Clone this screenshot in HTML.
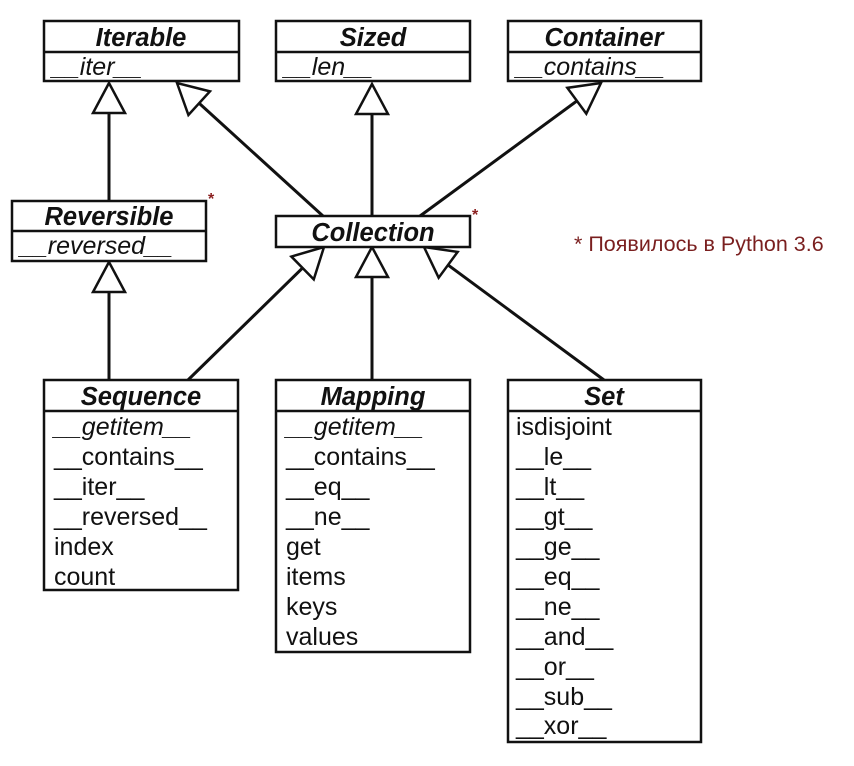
<!DOCTYPE html>
<html><head><meta charset="utf-8"><style>
html,body{margin:0;padding:0;background:#fff;}
svg{display:block;}
text{font-family:"Liberation Sans",Arial,sans-serif;fill:#111;}
.t{font-weight:bold;font-style:italic;font-size:25.5px;text-anchor:middle;}
.m{font-size:25px;}
.i{font-style:italic;}
</style></head><body>
<svg width="854" height="766" viewBox="0 0 854 766" xmlns="http://www.w3.org/2000/svg">
<g stroke="#111" stroke-width="3" fill="none">
<line x1="109" y1="200" x2="109" y2="110"/>
<line x1="323" y1="216" x2="178" y2="84"/>
<line x1="372" y1="216" x2="372" y2="110"/>
<line x1="420" y1="216" x2="600" y2="84"/>
<line x1="109" y1="380" x2="109" y2="290"/>
<line x1="188" y1="380" x2="323" y2="248"/>
<line x1="372" y1="380" x2="372" y2="275"/>
<line x1="604" y1="380" x2="425" y2="248"/>
</g>
<g stroke="#111" stroke-width="2.5" fill="#fff">
<polygon points="0,0 -16,30 16,30" transform="translate(109,83)"/>
<polygon points="0,0 -16,30 16,30" transform="translate(177,83) rotate(-47.7)"/>
<polygon points="0,0 -16,30 16,30" transform="translate(372,84)"/>
<polygon points="0,0 -16,30 16,30" transform="translate(601,83) rotate(53.7)"/>
<polygon points="0,0 -16,30 16,30" transform="translate(109,262)"/>
<polygon points="0,0 -16,30 16,30" transform="translate(324,247) rotate(45.6)"/>
<polygon points="0,0 -16,30 16,30" transform="translate(372,247)"/>
<polygon points="0,0 -16,30 16,30" transform="translate(424,247) rotate(-53.6)"/>
</g>
<g stroke="#111" stroke-width="2.5" fill="#fff">
<rect x="44" y="21" width="195" height="60"/><line x1="44" y1="52" x2="239" y2="52"/>
<rect x="276" y="21" width="194" height="60"/><line x1="276" y1="52" x2="470" y2="52"/>
<rect x="508" y="21" width="193" height="60"/><line x1="508" y1="52" x2="701" y2="52"/>
<rect x="12" y="201" width="194" height="60"/><line x1="12" y1="231" x2="206" y2="231"/>
<rect x="276" y="216" width="194" height="31"/>
<rect x="44" y="380" width="194" height="210"/><line x1="44" y1="411" x2="238" y2="411"/>
<rect x="276" y="380" width="194" height="272"/><line x1="276" y1="411" x2="470" y2="411"/>
<rect x="508" y="380" width="193" height="362"/><line x1="508" y1="411" x2="701" y2="411"/>
</g>
<text class="t" x="141" y="46">Iterable</text>
<text class="m i" x="52" y="75">__iter__</text>
<text class="t" x="373" y="46">Sized</text>
<text class="m i" x="284" y="75">__len__</text>
<text class="t" x="604" y="46">Container</text>
<text class="m i" x="516" y="75">__contains__</text>
<text class="t" x="109" y="225">Reversible</text>
<text class="m i" x="20" y="254">__reversed__</text>
<text class="t" x="373" y="241">Collection</text>
<text class="t" x="141" y="405">Sequence</text>
<text class="t" x="373" y="405">Mapping</text>
<text class="t" x="604" y="405">Set</text>
<text class="m i" x="54" y="435">__getitem__</text>
<text class="m" x="54" y="465">__contains__</text>
<text class="m" x="54" y="495">__iter__</text>
<text class="m" x="54" y="525">__reversed__</text>
<text class="m" x="54" y="555">index</text>
<text class="m" x="54" y="585">count</text>
<text class="m i" x="286" y="435">__getitem__</text>
<text class="m" x="286" y="465">__contains__</text>
<text class="m" x="286" y="495">__eq__</text>
<text class="m" x="286" y="525">__ne__</text>
<text class="m" x="286" y="555">get</text>
<text class="m" x="286" y="585">items</text>
<text class="m" x="286" y="615">keys</text>
<text class="m" x="286" y="645">values</text>
<text class="m" x="516" y="435">isdisjoint</text>
<text class="m" x="516" y="465">__le__</text>
<text class="m" x="516" y="495">__lt__</text>
<text class="m" x="516" y="525">__gt__</text>
<text class="m" x="516" y="555">__ge__</text>
<text class="m" x="516" y="585">__eq__</text>
<text class="m" x="516" y="615">__ne__</text>
<text class="m" x="516" y="645">__and__</text>
<text class="m" x="516" y="675">__or__</text>
<text class="m" x="516" y="705">__sub__</text>
<text class="m" x="516" y="734">__xor__</text>
<text x="208" y="204" style="fill:#8b2020;font-size:16px;font-weight:bold">*</text>
<text x="472" y="220" style="fill:#8b2020;font-size:16px;font-weight:bold">*</text>
<text x="574" y="251" style="fill:#7a1f1f;font-size:21.5px">* Появилось в Python 3.6</text>
</svg>
</body></html>
